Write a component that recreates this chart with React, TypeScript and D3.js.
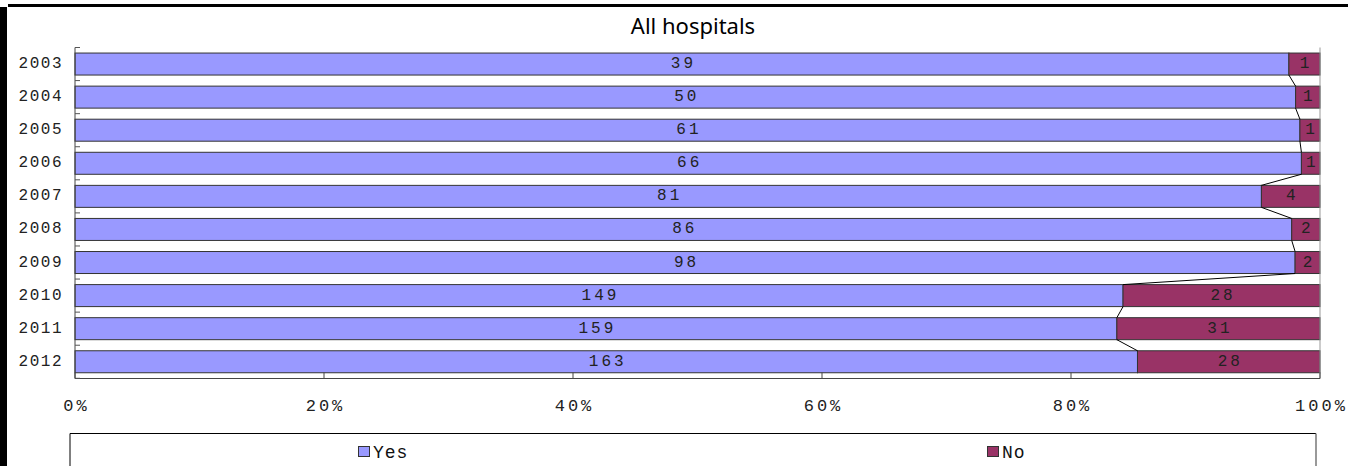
import React from 'react';
import * as d3 from 'd3';

// Chart data: counts of hospitals answering Yes / No, per year
const years = ['2003', '2004', '2005', '2006', '2007', '2008', '2009', '2010', '2011', '2012'];
const yesCounts = [39, 50, 61, 66, 81, 86, 98, 149, 159, 163];
const noCounts = [1, 1, 1, 1, 4, 2, 2, 28, 31, 28];
const pctTicks = [0, 0.2, 0.4, 0.6, 0.8, 1];
const seriesNames = ['Yes', 'No'];
const seriesColors = ['#9999FF', '#993366'];
const chartTitle = 'All hospitals';

const W = 1348;
const H = 466;
const monoFont = '"Liberation Mono", "DejaVu Sans Mono", monospace';

export default function App() {
  const x = d3.scaleLinear().domain([0, 1]).range([75, 1320]);
  const y = d3
    .scaleBand<string>()
    .domain(years)
    .range([47.5, 378.3])
    .paddingInner(0.335)
    .paddingOuter(0.1675);
  const step = y.step();
  const bw = y.bandwidth();

  const rows = years.map((yr, i) => {
    const total = yesCounts[i] + noCounts[i];
    const split = yesCounts[i] / total;
    return { yr, yes: yesCounts[i], no: noCounts[i], split };
  });

  const stackTop = 47.5;
  const bandEdges = d3.range(years.length + 1).map((i) => stackTop + i * step);

  const legendLeft = 70;
  const legendRight = 1316;
  const legendTop = 433.5;
  const colW = (legendRight - legendLeft) / seriesNames.length;

  return (
    <div style={{ position: 'absolute', left: 0, top: 0 }}>
      <svg width={W} height={H} style={{ display: 'block', background: '#fff' }}>
        {/* page frame */}
        <rect x={8} y={4} width={W - 8} height={3} fill="#000" />
        <rect x={0} y={7} width={7} height={H - 7} fill="#000" />

        <text
          x={693}
          y={34}
          textAnchor="middle"
          fontFamily='"Noto Sans", "Liberation Sans", sans-serif'
          fontSize={22}
          fill="#000"
        >
          {chartTitle}
        </text>

        {/* bars */}
        {rows.map((r) => {
          const y0 = y(r.yr)!;
          return (
            <g key={r.yr}>
              <rect
                x={x(0)}
                y={y0}
                width={x(r.split) - x(0)}
                height={bw}
                fill={seriesColors[0]}
                stroke="#333"
                strokeWidth={1}
              />
              <rect
                x={x(r.split)}
                y={y0}
                width={x(1) - x(r.split)}
                height={bw}
                fill={seriesColors[1]}
                stroke="#333"
                strokeWidth={1}
              />
              <text
                x={(x(0) + x(r.split)) / 2 + 1.5}
                y={y0 + bw / 2 + 4}
                textAnchor="middle"
                fontFamily={monoFont}
                fontSize={16}
                letterSpacing={3}
                fill="#222"
              >
                {r.yes}
              </text>
              <text
                x={(x(r.split) + x(1)) / 2 + 1.5}
                y={y0 + bw / 2 + 4}
                textAnchor="middle"
                fontFamily={monoFont}
                fontSize={16}
                letterSpacing={3}
                fill="#222"
              >
                {r.no}
              </text>
            </g>
          );
        })}

        {/* series lines joining the Yes/No boundary of consecutive bars */}
        {rows.slice(0, -1).map((r, i) => {
          const nxt = rows[i + 1];
          return (
            <line
              key={'sl' + r.yr}
              x1={x(r.split)}
              y1={y(r.yr)! + bw}
              x2={x(nxt.split)}
              y2={y(nxt.yr)!}
              stroke="#000"
              strokeWidth={1}
            />
          );
        })}

        {/* axes */}
        <line x1={x(0)} y1={stackTop} x2={x(0)} y2={378.5} stroke="#444" strokeWidth={1} />
        <line x1={x(1)} y1={stackTop} x2={x(1)} y2={378.5} stroke="#999" strokeWidth={1} />
        <line x1={x(0)} y1={378.5} x2={x(1)} y2={378.5} stroke="#444" strokeWidth={1} />
        {bandEdges.map((e, i) => (
          <line key={'yt' + i} x1={x(0)} y1={e} x2={x(0) + 5} y2={e} stroke="#555" strokeWidth={1} />
        ))}
        {pctTicks.map((t) => (
          <line key={'xt' + t} x1={x(t)} y1={378.5} x2={x(t)} y2={372.5} stroke="#444" strokeWidth={1} />
        ))}

        {years.map((yr) => (
          <text
            key={'yl' + yr}
            x={63}
            y={y(yr)! + bw / 2 + 4}
            textAnchor="end"
            fontFamily={monoFont}
            fontSize={16}
            letterSpacing={1.5}
            fill="#222"
          >
            {yr}
          </text>
        ))}
        {pctTicks.map((t) => (
          <text
            key={'xl' + t}
            x={x(t) + 1.5}
            y={411}
            textAnchor="middle"
            fontFamily={monoFont}
            fontSize={17}
            letterSpacing={3}
            fill="#222"
          >
            {d3.format('.0%')(t)}
          </text>
        ))}

        {/* legend */}
        <line x1={legendLeft} y1={legendTop} x2={legendRight} y2={legendTop} stroke="#000" strokeWidth={1} />
        <line x1={legendLeft} y1={legendTop} x2={legendLeft} y2={H} stroke="#000" strokeWidth={1} />
        <line x1={legendRight} y1={legendTop} x2={legendRight} y2={H} stroke="#777" strokeWidth={1.5} />
        {seriesNames.map((name, i) => {
          const textW = name.length * 12;
          const itemW = 17 + textW;
          const cx = legendLeft + colW * (i + 0.5) + 3;
          const sx = cx - itemW / 2;
          return (
            <g key={'lg' + name}>
              <rect x={sx + 0.5} y={446.5} width={11} height={10} fill={seriesColors[i]} stroke="#333" strokeWidth={1} />
              <text
                x={sx + 15}
                y={458}
                fontFamily={monoFont}
                fontSize={18}
                letterSpacing={1}
                fill="#111"
              >
                {name}
              </text>
            </g>
          );
        })}
      </svg>
    </div>
  );
}
